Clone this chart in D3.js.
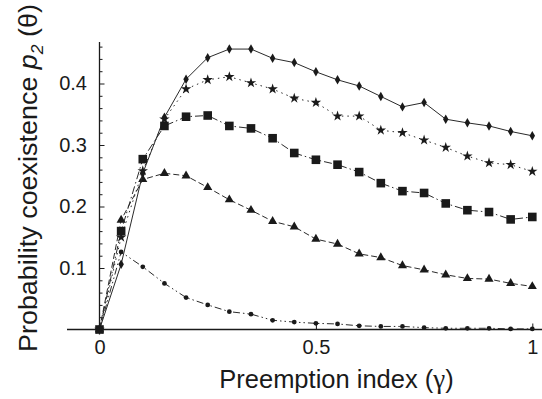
<!DOCTYPE html>
<html>
<head>
<meta charset="utf-8">
<script src="https://cdn.jsdelivr.net/npm/d3@7"></script>
<style>
  html, body { margin: 0; padding: 0; background: #fff; }
  svg { display: block; font-family: "Liberation Sans", Arial, Helvetica, sans-serif; }
</style>
</head>
<body>
<div id="chart"></div>
<script>
// ---- data ----
const gamma = [0, 0.05, 0.1, 0.15, 0.2, 0.25, 0.3, 0.35, 0.4, 0.45, 0.5,
               0.55, 0.6, 0.65, 0.7, 0.75, 0.8, 0.85, 0.9, 0.95, 1];

const diamonds = [0, 0.106, 0.254, 0.345, 0.407, 0.442, 0.456, 0.456, 0.441, 0.434, 0.419,
                  0.406, 0.396, 0.379, 0.362, 0.369, 0.342, 0.336, 0.331, 0.322, 0.315];
const stars = [0, 0.150, 0.258, 0.342, 0.391, 0.406, 0.411, 0.401, 0.391, 0.376, 0.369,
               0.347, 0.347, 0.324, 0.320, 0.308, 0.296, 0.282, 0.271, 0.268, 0.257];
const squares = [0, 0.160, 0.277, 0.331, 0.346, 0.348, 0.331, 0.327, 0.311, 0.287, 0.276,
                 0.268, 0.256, 0.238, 0.225, 0.222, 0.205, 0.194, 0.191, 0.179, 0.183];
const triangles = [0, 0.178, 0.244, 0.254, 0.250, 0.231, 0.211, 0.194, 0.176, 0.167, 0.147,
                   0.139, 0.123, 0.117, 0.104, 0.097, 0.089, 0.083, 0.082, 0.075, 0.070];
const circles = [0, 0.126, 0.102, 0.075, 0.052, 0.040, 0.029, 0.025, 0.015, 0.012, 0.010,
                 0.009, 0.006, 0.005, 0.005, 0.003, 0.002, 0.002, 0.002, 0.001, 0.001];

const xTicks = [0, 0.5, 1];
const yTicks = [0.1, 0.2, 0.3, 0.4];
const yMinorTicks = [0.02, 0.04, 0.06, 0.08, 0.12, 0.14, 0.16, 0.18, 0.22, 0.24, 0.26, 0.28,
                     0.32, 0.34, 0.36, 0.38, 0.42, 0.44, 0.46];

// series styling: marker + dash pattern
const series = [
  { values: circles,   symbol: d3.symbolCircle,   size: 18, dash: "7,3,1.5,3,1.5,3" },
  { values: triangles, symbol: d3.symbolTriangle, size: 36, dash: "6,3" },
  { values: stars,     symbol: d3.symbolStar,     size: 34, dash: "1.5,4" },
  { values: diamonds,  symbol: d3.symbolDiamond,  size: 26, dash: null },
  { values: squares,   symbol: d3.symbolSquare,   size: 74, dash: "8,3,1.5,3" },
];

const width = 542, height = 399;
const INK = "#1a1a1a";

const x = d3.scaleLinear().domain([0, 1]).range([99.5, 532.3]);
const y = d3.scaleLinear().domain([0, 0.4675]).range([329.5, 42]);

const svg = d3.select("#chart").append("svg")
  .attr("width", width).attr("height", height)
  .attr("viewBox", `0 0 ${width} ${height}`);

// ---- axes ----
const yAxis = svg.append("g")
  .attr("transform", `translate(${x(0)},0)`)
  .call(d3.axisLeft(y).tickValues(yTicks).tickSizeInner(-5).tickSizeOuter(0)
    .tickPadding(12.5).tickFormat(d3.format(".1f")));
yAxis.select(".domain").remove();
yAxis.selectAll("line").attr("stroke", INK);
yAxis.selectAll("text").attr("font-size", 20).attr("fill", INK)
  .attr("font-family", "Liberation Sans, Arial, sans-serif");

const yMinor = svg.append("g")
  .attr("transform", `translate(${x(0)},0)`)
  .call(d3.axisLeft(y).tickValues(yMinorTicks).tickSizeInner(-3).tickSizeOuter(0).tickFormat(""));
yMinor.select(".domain").remove();
yMinor.selectAll("line").attr("stroke", INK);

const xAxis = svg.append("g")
  .attr("transform", `translate(0,${y(0)})`)
  .call(d3.axisBottom(x).tickValues(xTicks).tickSizeInner(-6).tickSizeOuter(0)
    .tickPadding(10.5).tickFormat(d => String(d)));
xAxis.select(".domain").remove();
xAxis.selectAll("line").attr("stroke", INK);
xAxis.selectAll("text").attr("font-size", 20).attr("fill", INK)
  .attr("font-family", "Liberation Sans, Arial, sans-serif");

// axis lines (x runs past the plot to the left and right edges)
svg.append("line")
  .attr("x1", 67).attr("x2", width)
  .attr("y1", y(0)).attr("y2", y(0))
  .attr("stroke", INK).attr("stroke-width", 1.3);
svg.append("line")
  .attr("x1", x(0)).attr("x2", x(0))
  .attr("y1", y.range()[1]).attr("y2", y(0) + 5)
  .attr("stroke", INK).attr("stroke-width", 1.3);

// ---- series: line then markers ----
const line = d3.line().x((d, i) => x(gamma[i])).y(d => y(d));

series.forEach(s => {
  svg.append("path")
    .attr("d", line(s.values))
    .attr("fill", "none")
    .attr("stroke", "#2a2a2a")
    .attr("stroke-width", 1)
    .attr("stroke-dasharray", s.dash);

  svg.append("g").selectAll("path")
    .data(s.values)
    .join("path")
    .attr("transform", (d, i) => `translate(${x(gamma[i])},${y(d)})`)
    .attr("d", d3.symbol(s.symbol, s.size))
    .attr("fill", INK);
});

// ---- titles ----
const xTitle = svg.append("text")
  .attr("x", 336.5).attr("y", 388)
  .attr("text-anchor", "middle")
  .attr("font-size", 25.5)
  .attr("fill", INK);
xTitle.append("tspan").text("Preemption index (");
xTitle.append("tspan").attr("font-family", "Liberation Serif, serif").attr("font-size", 27).text("γ");
xTitle.append("tspan").text(")");

const yTitle = svg.append("text")
  .attr("transform", "translate(36.5,352) rotate(-90)")
  .attr("text-anchor", "start")
  .attr("font-size", 26)
  .attr("textLength", 348)
  .attr("lengthAdjust", "spacingAndGlyphs")
  .attr("fill", INK);
yTitle.append("tspan").text("Probability coexistence ");
yTitle.append("tspan").attr("font-style", "italic").text("p");
yTitle.append("tspan").attr("font-style", "italic").attr("font-size", 17).attr("dy", 6).text("2");
yTitle.append("tspan").attr("dy", -6).text(" (θ)");
</script>
</body>
</html>
